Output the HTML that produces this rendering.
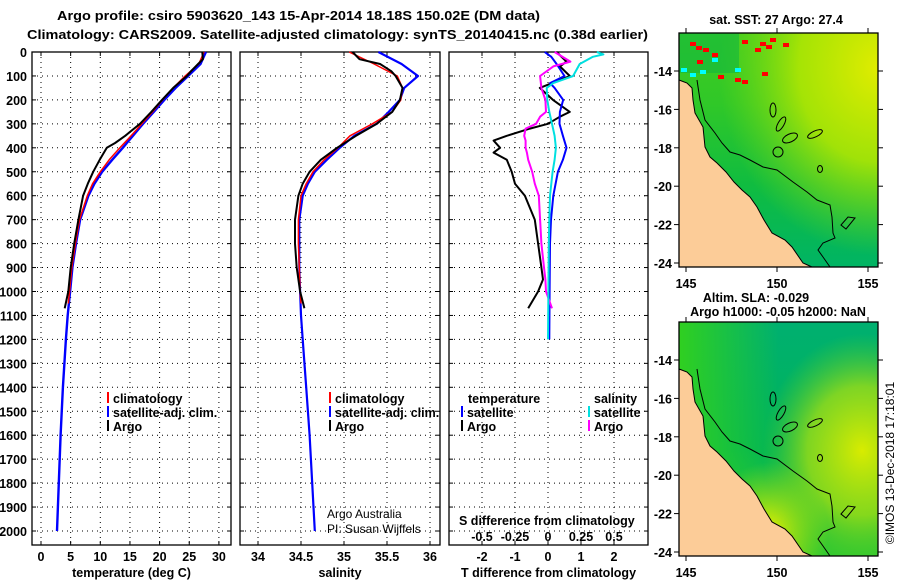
<!DOCTYPE html>
<html><head><meta charset="utf-8"><style>
html,body{margin:0;padding:0;background:#fff;}
svg{display:block;font-family:"Liberation Sans",sans-serif;}
.b{font-weight:bold;font-size:12.5px;}
</style></head><body>
<svg id="fig" width="900" height="580" viewBox="0 0 900 580" xmlns="http://www.w3.org/2000/svg">
<defs>
<linearGradient id="sstbase" x1="0" y1="1" x2="0" y2="0">
<stop offset="0" stop-color="#00b464"/><stop offset="0.35" stop-color="#10bc40"/><stop offset="0.7" stop-color="#30c828"/><stop offset="1" stop-color="#40cc20"/></linearGradient>
<radialGradient id="sstyel" cx="1" cy="0.15" r="0.8"><stop offset="0" stop-color="#e0ec00"/><stop offset="0.5" stop-color="#b8e800" stop-opacity="0.85"/><stop offset="1" stop-color="#80dc10" stop-opacity="0"/></radialGradient>
<linearGradient id="slag" x1="0" y1="0" x2="0" y2="1"><stop offset="0" stop-color="#00b070"/><stop offset="0.55" stop-color="#00b458"/><stop offset="1" stop-color="#30c830"/></linearGradient>
<radialGradient id="slay1" cx="0.92" cy="0.55" r="0.5"><stop offset="0" stop-color="#d8ec00"/><stop offset="0.55" stop-color="#a8e010" stop-opacity="0.75"/><stop offset="1" stop-color="#60d020" stop-opacity="0"/></radialGradient>
<radialGradient id="slay2" cx="0.45" cy="0.9" r="0.3"><stop offset="0" stop-color="#e8f000"/><stop offset="1" stop-color="#c0e800" stop-opacity="0"/></radialGradient>
<linearGradient id="slacoast" x1="0" y1="0" x2="1" y2="0"><stop offset="0" stop-color="#30d020"/><stop offset="0.5" stop-color="#30d020" stop-opacity="0"/></linearGradient>
</defs>
<text class="b" x="57" y="20" textLength="483" lengthAdjust="spacingAndGlyphs">Argo profile: csiro 5903620_143 15-Apr-2014 18.18S 150.02E (DM data)</text>
<text class="b" x="27" y="39" textLength="621" lengthAdjust="spacingAndGlyphs">Climatology: CARS2009. Satellite-adjusted climatology: synTS_20140415.nc (0.38d earlier)</text>
<g id="panels"></g>
<g id="maps"></g>
</svg>
<script>
// ---- data ----
const tDepth = [0,30,50,80,100,150,200,250,300,350,380,400,450,500,550,600,700,800,900,1000,1070];
const tArgo  = [27.2,27.3,26.5,25.3,24.6,22.3,20.4,18.6,16.7,14.2,12.5,11.1,9.9,8.8,7.9,7.1,6.3,5.6,5.0,4.6,4.0];
const climDepth = [0,50,100,150,200,250,300,350,400,450,500,550,600,700,800,900,1000,1050];
const tClim  = [27.5,26.6,24.3,22.3,20.5,18.8,17.0,15.2,13.3,11.5,10.0,8.7,7.8,6.5,5.8,5.2,4.8,4.6];
const sClim  = [35.06,35.35,35.62,35.68,35.66,35.56,35.33,35.07,34.93,34.77,34.64,34.56,34.5,34.47,34.47,34.48,34.49,34.5];
const cDepth = [0,50,100,150,200,250,300,350,400,450,500,550,600,700,800,900,1000,1100,1200,1400,1600,1800,2000];
const tSat   = [27.8,26.9,24.8,22.7,20.8,19.0,17.2,15.5,13.8,12.0,10.3,9.0,8.0,6.6,5.9,5.3,4.9,4.5,4.2,3.7,3.3,3.0,2.7];
const sSat   = [35.4,35.67,35.86,35.7,35.65,35.52,35.38,35.12,34.95,34.8,34.66,34.58,34.52,34.48,34.48,34.48,34.49,34.5,34.52,34.56,34.6,34.63,34.66];
const sArgoDepth = [0,30,50,80,100,150,200,250,300,350,400,450,500,550,600,700,800,900,1000,1070];
const sArgo  = [35.1,35.18,35.42,35.55,35.6,35.68,35.65,35.56,35.38,35.14,34.92,34.73,34.6,34.52,34.47,34.43,34.43,34.45,34.49,34.54];
const dDepth = [0,40,60,100,150,200,250,270,300,320,350,370,400,420,450,500,550,600,700,800,900,950,1000,1070];
const dTArgo = [0.26,0.56,0.36,0.66,-0.25,0.15,0.66,0.36,0,-0.55,-1.25,-1.65,-1.45,-1.65,-1.25,-1.1,-1.0,-0.7,-0.4,-0.3,-0.2,-0.15,-0.3,-0.6];
const dSArgo = [0.05,0.17,0.04,-0.06,-0.05,-0.02,-0.015,-0.06,-0.09,-0.17,-0.18,-0.17,-0.17,-0.16,-0.15,-0.12,-0.1,-0.07,-0.06,-0.05,-0.03,-0.02,-0.015,0.03];
const sdDepth = [0,10,20,50,100,130,150,200,250,300,350,400,450,500,600,700,800,1000,1200];
const dTSat  = [-0.1,0.0,0.1,0.26,0.5,0.06,0.2,0.46,0.36,0.35,0.45,0.56,0.45,0.3,0.16,0.09,0.06,0.05,0.04];
const dSSat  = [0.37,0.42,0.34,0.24,0.19,0.04,-0.01,-0.005,0.01,0.03,0.05,0.06,0.05,0.035,0.015,0.01,0.006,0.003,0.0];
const depthTicks = [0,100,200,300,400,500,600,700,800,900,1000,1100,1200,1300,1400,1500,1600,1700,1800,1900,2000];
const tTicks = [0,5,10,15,20,25,30];
const sTicks = [34,34.5,35,35.5,36];
const dTTicks = [-2,-1,0,1,2];
const dSTicks = [-0.5,-0.25,0,0.25,0.5];
const dSTickLabels = ['-0.5','-0.25','0','0.25','0.5'];
const latTicks = [-14,-16,-18,-20,-22,-24];
const lonTicks = [145,150,155];

// ---- axes ----
const xT = t => 41 + t*5.93;
const xS = s => 258 + (s-34)*86;
const xDT = d => 548 + d*33;
const xDS = d => 548 + d*132;
const yD = z => 52 + z*0.2395;
const NS = 'http://www.w3.org/2000/svg';
function mk(tag, attrs, parent, txt){
  const e = document.createElementNS(NS, tag);
  for (const k in attrs) e.setAttribute(k, attrs[k]);
  if (txt !== undefined) e.textContent = txt;
  parent.appendChild(e); return e;
}
const P = document.getElementById('panels');
const panels = [
  {x0:32,x1:231,fx:xT,ticks:tTicks,lab:tTicks.map(String),title:'temperature (deg C)',name:'temperature'},
  {x0:240,x1:440,fx:xS,ticks:sTicks,lab:['34','34.5','35','35.5','36'],title:'salinity',name:'salinity'},
  {x0:449,x1:648,fx:xDT,ticks:dTTicks,lab:dTTicks.map(String),title:'T difference from climatology',name:'difference'}
];
const Y0=52, Y1=545;
panels.forEach((p,i)=>{
  const g = mk('g',{},P);
  
  
  depthTicks.forEach(z=>{
    if (z>0) { const l = mk('line',{x1:p.x0,x2:p.x1,y1:yD(z),y2:yD(z),stroke:'#000','stroke-width':1,'stroke-dasharray':'1 4'},g);
        }
    mk('line',{x1:p.x0,x2:p.x0+4,y1:yD(z),y2:yD(z),stroke:'#000'},g);
    mk('line',{x1:p.x1-4,x2:p.x1,y1:yD(z),y2:yD(z),stroke:'#000'},g);
  });
  p.ticks.forEach((t,k)=>{
    const x = p.fx(t);
    const l = mk('line',{x1:x,x2:x,y1:Y0,y2:Y1,stroke:'#000','stroke-width':1,'stroke-dasharray':'1 4'},g);
     
    mk('line',{x1:x,x2:x,y1:Y1-4,y2:Y1,stroke:'#000'},g);
    mk('line',{x1:x,x2:x,y1:Y0,y2:Y0+4,stroke:'#000'},g);
    const tl = mk('text',{x:x,y:561,'text-anchor':'middle','class':'b'},g,p.lab[k]);
     
  });
  const r = mk('rect',{x:p.x0,y:Y0,width:p.x1-p.x0,height:Y1-Y0,fill:'none',stroke:'#000','stroke-width':1.3},g);
   
  const at = mk('text',{x:(p.x0+p.x1)/2,y:577,'text-anchor':'middle','class':'b'},g,p.title);
   
});
depthTicks.forEach(z=>{
  const t = mk('text',{x:27,y:yD(z)+5,'text-anchor':'end','class':'b'},P,String(z));
   
});
function line(vals, depths, fx, color, w, name){
  const pts = vals.map((v,i)=>fx(v).toFixed(1)+','+yD(depths[i]).toFixed(1)).join(' ');
  const l = mk('polyline',{points:pts,fill:'none',stroke:color,'stroke-width':w,'stroke-linejoin':'round'},P);
  
  
}
line(tSat, cDepth, xT, '#0000ff', 2.4, 'temperature-satellite-line');
line(tClim, climDepth, xT, '#ff0000', 1.5, 'temperature-climatology-line');
line(tArgo, tDepth, xT, '#000', 2, 'temperature-argo-line');
line(sSat, cDepth, xS, '#0000ff', 2.2, 'salinity-satellite-line');
line(sClim, climDepth, xS, '#ff0000', 1.5, 'salinity-climatology-line');
line(sArgo, sArgoDepth, xS, '#000', 2, 'salinity-argo-line');
line(dTArgo, dDepth, xDT, '#000', 2, 'tdiff-argo-line');
line(dTSat, sdDepth, xDT, '#0000ff', 2, 'tdiff-satellite-line');
line(dSArgo, dDepth, xDS, '#ff00ff', 2, 'sdiff-argo-line');
line(dSSat, sdDepth, xDS, '#00e0e0', 2, 'sdiff-satellite-line');

// legends
function leg(x,y,color,txt,name){
  const g = mk('g',{},P);
  
  
  mk('line',{x1:x,x2:x,y1:y-11,y2:y,stroke:color,'stroke-width':2},g);
  mk('text',{x:x+5,y:y,'class':'b'},g,txt);
}
[[108,'temperature'],[330,'salinity']].forEach(([x,n])=>{
  leg(x,403,'#ff0000','climatology',n+'-legend-climatology');
  leg(x,417,'#0000ff','satellite-adj. clim.',n+'-legend-satellite');
  leg(x,431,'#000','Argo',n+'-legend-argo');
});
let tt = mk('text',{x:468,y:403,'class':'b'},P,'temperature');  
tt = mk('text',{x:594,y:403,'class':'b'},P,'salinity');  
leg(462,417,'#0000ff','satellite','diff-legend-t-satellite');
leg(462,431,'#000','Argo','diff-legend-t-argo');
leg(589,417,'#00e0e0','satellite','diff-legend-s-satellite');
leg(589,431,'#ff00ff','Argo','diff-legend-s-argo');
tt = mk('text',{x:459,y:525,'class':'b'},P,'S difference from climatology');  
dSTicks.forEach((d,k)=>{
  const t = mk('text',{x:xDS(d),y:541,'text-anchor':'middle','class':'b'},P,dSTickLabels[k]);
   
});
tt = mk('text',{x:327,y:518,'font-size':12},P,'Argo Australia');  
tt = mk('text',{x:327,y:533,'font-size':12},P,'PI: Susan Wijffels');  

// ---- maps ----
const M = document.getElementById('maps');
const coast = [[679,80],[687,83],[692,88],[693,100],[695,113],[703,127],[705,147],[710,157],[717,163],[726,172],[734,182],[742,190],[750,197],[757,207],[764,220],[772,233],[785,240],[792,247],[803,263],[812,267],[679,267]];
const iso = [[697,80],[700,100],[705,120],[715,133],[722,143],[730,152],[740,155],[750,160],[763,167],[777,170],[793,182],[807,192],[817,200],[830,205],[832,217],[833,233],[835,238],[823,243],[818,250],[823,257],[830,267]];
function drawMap(dy, kind){
  const g = mk('g',{transform:'translate(0,'+dy+')'},M);
  
  
  if (kind==='sst'){
    mk('rect',{x:679,y:33,width:199,height:234,fill:'url(#sstbase)'},g);
    mk('rect',{x:679,y:33,width:199,height:234,fill:'url(#sstyel)'},g);
    mk('rect',{x:679,y:33,width:60,height:40,fill:'#10b840',opacity:0.6},g);
    [[690,42],[696,46],[703,48],[742,40],[760,42],[766,45],[697,60],[718,75],[735,78],[755,48],[770,38],[783,43],[712,53],[762,72],[742,80]].forEach(c=>mk('rect',{x:c[0],y:c[1],width:6,height:4,fill:'#ff0000'},g));
    [[681,68],[690,73],[700,70],[712,58],[735,68]].forEach(c=>mk('rect',{x:c[0],y:c[1],width:6,height:4,fill:'#00ffff'},g));
  } else {
    mk('rect',{x:679,y:33,width:199,height:234,fill:'url(#slag)'},g);
    mk('rect',{x:679,y:33,width:199,height:234,fill:'url(#slacoast)'},g);
    mk('rect',{x:679,y:33,width:199,height:234,fill:'url(#slay1)'},g);
    mk('rect',{x:679,y:33,width:199,height:234,fill:'url(#slay2)'},g);
  }
  mk('polygon',{points:coast.map(p=>p.join(',')).join(' '),fill:'#fccc98',stroke:'#000','stroke-width':1},g);
  mk('polyline',{points:iso.map(p=>p.join(',')).join(' '),fill:'none',stroke:'#000','stroke-width':1},g);
  mk('circle',{cx:778,cy:152,r:5,fill:'none',stroke:'#000'},g);
  mk('ellipse',{cx:773,cy:110,rx:3,ry:7,fill:'none',stroke:'#000'},g);
  mk('ellipse',{cx:781,cy:124,rx:3,ry:8,fill:'none',stroke:'#000',transform:'rotate(30 781 124)'},g);
  mk('ellipse',{cx:790,cy:138,rx:8,ry:4,fill:'none',stroke:'#000',transform:'rotate(-25 790 138)'},g);
  mk('ellipse',{cx:815,cy:134,rx:8,ry:3,fill:'none',stroke:'#000',transform:'rotate(-25 815 134)'},g);
  mk('ellipse',{cx:820,cy:169,rx:2.5,ry:3.5,fill:'none',stroke:'#000'},g);
  mk('path',{d:'M841 225 L848 217 L855 218 L846 229 Z',fill:'none',stroke:'#000'},g);
  mk('rect',{x:679,y:33,width:199,height:234,fill:'none',stroke:'#000','stroke-width':1.3},g);
  latTicks.forEach(la=>{
    const y = 71 + (-14-la)*19.2;
    mk('line',{x1:674,x2:679,y1:y,y2:y,stroke:'#000'},g);
    mk('line',{x1:878,x2:883,y1:y,y2:y,stroke:'#000'},g);
    const t = mk('text',{x:672,y:y+5,'text-anchor':'end','class':'b'},g,String(la));
     
  });
  lonTicks.forEach(lo=>{
    const x = 686 + (lo-145)*18.2;
    mk('line',{x1:x,x2:x,y1:28,y2:33,stroke:'#000'},g);
    mk('line',{x1:x,x2:x,y1:267,y2:272,stroke:'#000'},g);
    const t = mk('text',{x:x,y:288,'text-anchor':'middle','class':'b'},g,String(lo));
     
  });
}
drawMap(0,'sst');
drawMap(289,'sla');
tt = mk('text',{x:776,y:24,'text-anchor':'middle','class':'b'},M,'sat. SST: 27 Argo: 27.4');  
tt = mk('text',{x:756,y:302,'text-anchor':'middle','class':'b'},M,'Altim. SLA: -0.029');  
tt = mk('text',{x:778,y:316,'text-anchor':'middle','class':'b'},M,'Argo h1000: -0.05 h2000: NaN');  
tt = mk('text',{x:0,y:0,'text-anchor':'middle','font-size':12,transform:'translate(894,463) rotate(-90)'},M,'©IMOS 13-Dec-2018 17:18:01');  
</script>
</body></html>
